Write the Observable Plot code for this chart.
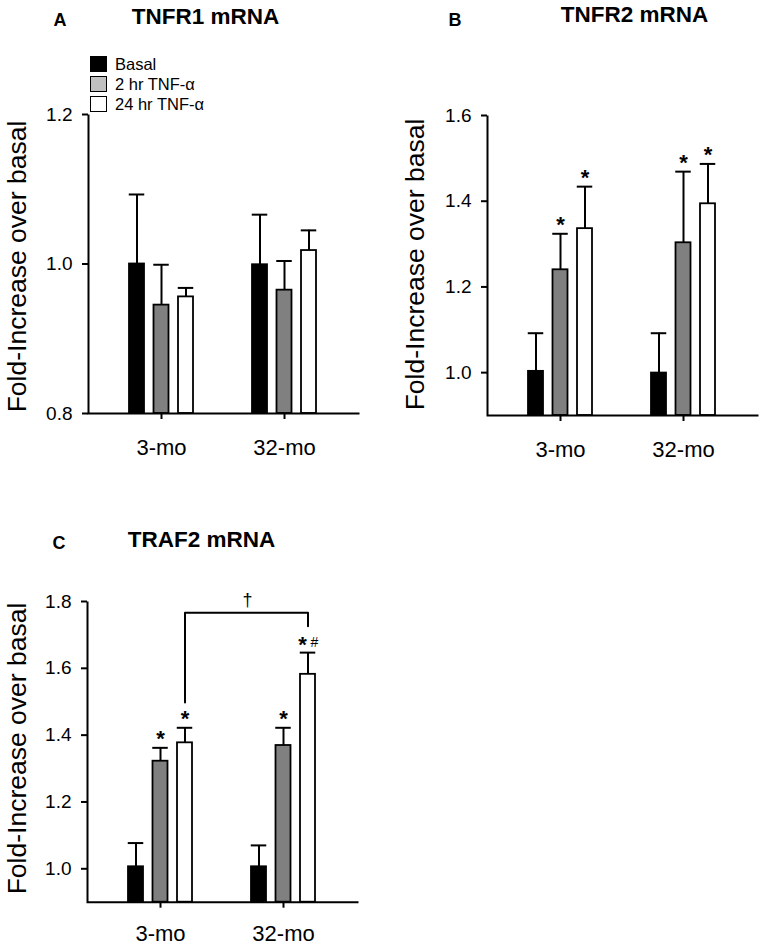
<!DOCTYPE html>
<html>
<head>
<meta charset="utf-8">
<script src="https://cdn.jsdelivr.net/npm/d3@7"></script>
<script src="https://cdn.jsdelivr.net/npm/@observablehq/plot@0.6"></script>
<style>
  body { margin: 0; background: #fff; }
  #wrap { position: relative; width: 761px; height: 946px; background: #fff; font-family: "Liberation Sans", Arial, sans-serif; overflow: hidden; }
  .panel { position: absolute; }
  .legend { position: absolute; left: 90px; top: 53.5px; font-size: 16.5px; color: #000; }
  .legend .row { display: flex; align-items: center; height: 20px; line-height: 20px; white-space: nowrap; }
  .legend .sw { box-sizing: border-box; width: 17px; height: 16px; border: 1.5px solid #000; margin-right: 8px; }
</style>
</head>
<body>
<div id="wrap"></div>
<script>
// ---------------- data ----------------
const ages = ["3-mo", "32-mo"];
const treatments = ["Basal", "2 hr TNF-α", "24 hr TNF-α"];
const yLabel = "Fold-Increase over basal";

// order: 3-mo (Basal, 2 hr, 24 hr), 32-mo (Basal, 2 hr, 24 hr)
const tnfr1Mean = [1.000, 0.945, 0.956, 0.999, 0.965, 1.018];
const tnfr1Sem  = [0.093, 0.054, 0.012, 0.067, 0.039, 0.027];
const tnfr1Sig  = ["", "", "", "", "", ""];
const tnfr1Ticks = [0.8, 1.0, 1.2];

const tnfr2Mean = [1.003, 1.240, 1.336, 0.999, 1.303, 1.394];
const tnfr2Sem  = [0.089, 0.084, 0.098, 0.093, 0.166, 0.093];
const tnfr2Sig  = ["", "*", "*", "", "*", "*"];
const tnfr2Ticks = [1.0, 1.2, 1.4, 1.6];

const traf2Mean = [1.006, 1.322, 1.377, 1.006, 1.369, 1.582];
const traf2Sem  = [0.071, 0.040, 0.045, 0.064, 0.053, 0.065];
const traf2Sig  = ["", "*", "*", "", "*", "*"];
const traf2Hash = ["", "", "", "", "", "#"];
const traf2Ticks = [1.0, 1.2, 1.4, 1.6, 1.8];

// 3-mo vs 32-mo (24 hr TNF-α) comparison bracket
const bracketAges = ["3-mo", "3-mo", "32-mo", "32-mo"];
const bracketY    = [1.498, 1.766, 1.766, 1.726];
const bracketLabel = "†";

// ---------------- styling / layout constants ----------------
const barFills = ["#000000", "#808080", "#ffffff"];
const legendFills = ["#000000", "#c0c0c0", "#ffffff"];
const barOffsets = [-24.5, 0, 24.5];   // px offset of each treatment within an age group
const FONT = "'Liberation Sans', Arial, Helvetica, sans-serif";

function rowsOf(mean, sem, sig, hash) {
  return ages.flatMap((age, i) => treatments.map((t, j) => {
    const k = i * 3 + j;
    return {age, treatment: t, ti: j, mean: mean[k], sem: sem[k], top: mean[k] + sem[k],
            sig: sig ? sig[k] : "", hash: hash ? hash[k] : ""};
  }));
}

function panel(o) {
  const {rows, domain, ticks, w, h, ml, mr, mt, mb} = o;
  const W = w - ml - mr, H = h - mt - mb;
  const place = (str, x, baseline, fontSize, anchor, weight) =>
    Plot.text([str], {
      text: d => d, frameAnchor: "top-left", lineAnchor: "top",
      dx: x - ml, dy: baseline - mt - 0.71 * fontSize,
      textAnchor: anchor, fontSize, fontWeight: weight, fill: "#000"
    });
  const marks = [];
  treatments.forEach((t, j) => {
    const sub = rows.filter(d => d.ti === j);
    marks.push(
      Plot.ruleX(sub, {x: "age", y1: "mean", y2: "top", dx: barOffsets[j], stroke: "#000", strokeWidth: 2}),
      Plot.tickY(sub, {x: "age", y: "top", dx: barOffsets[j], insetLeft: 23.25, insetRight: 23.25, stroke: "#000", strokeWidth: 2}),
      Plot.barY(sub, {x: "age", y1: domain[0], y2: "mean", dx: barOffsets[j], insetLeft: 23.5, insetRight: 23.5,
                      fill: barFills[j], stroke: "#000", strokeWidth: 1.8}),
      Plot.text(sub.filter(d => d.sig && !d.hash), {x: "age", y: "top", text: "sig", dx: barOffsets[j], dy: -8.5,
                      lineAnchor: "middle", fontSize: 22, fontWeight: "bold", fill: "#000"}),
      Plot.text(sub.filter(d => d.sig && d.hash), {x: "age", y: "top", text: "sig", dx: barOffsets[j] - 5.5, dy: -7.5,
                      lineAnchor: "middle", fontSize: 22, fontWeight: "bold", fill: "#000"}),
      Plot.text(sub.filter(d => d.hash), {x: "age", y: "top", text: "hash", dx: barOffsets[j] + 6.5, dy: -10,
                      lineAnchor: "middle", fontSize: 14, fill: "#000"})
    );
  });
  marks.push(
    Plot.frame({stroke: "#000", strokeWidth: 2, strokeDasharray: `0,${W + H},${W + H}`}),
    Plot.axisY({ticks, tickFormat: ".1f", tickSize: 6, tickPadding: 10, fontSize: 19, strokeWidth: 2, label: null}),
    Plot.axisX({tickSize: 6, tickPadding: o.xpad, fontSize: 22, strokeWidth: 2, label: null}),
    Plot.text([yLabel], {text: d => d, frameAnchor: "left", rotate: -90, lineAnchor: "middle", textAnchor: "middle",
                         dx: o.ylab[0] - 0.32 * 26.5 - ml, dy: o.ylab[1] - (mt + H / 2), fontSize: 26.5, fill: "#000"}),
    place(o.letter, o.letterPos[0], o.letterPos[1], 18, "start", "bold"),
    place(o.title, o.titlePos[0], o.titlePos[1], 22.5, "middle", "bold")
  );
  if (o.extra) marks.push(...o.extra);
  return Plot.plot({
    width: w, height: h, marginLeft: ml, marginRight: mr, marginTop: mt, marginBottom: mb,
    style: {fontFamily: FONT, background: "transparent", overflow: "visible", color: "#000"},
    x: {type: "band", domain: ages, paddingInner: 0.5, paddingOuter: 0.3516, align: 0.488},
    y: {domain},
    marks
  });
}

const wrap = document.getElementById("wrap");
function put(node, left, top) {
  node.classList.add("panel");
  node.style.left = left + "px";
  node.style.top = top + "px";
  wrap.appendChild(node);
}

// Panel A
put(panel({
  rows: rowsOf(tnfr1Mean, tnfr1Sem, tnfr1Sig), domain: [0.8, 1.2], ticks: tnfr1Ticks,
  w: 380, h: 480, ml: 88, mr: 21, mt: 114, mb: 67, xpad: 19.4,
  letter: "A", letterPos: [53, 25], title: "TNFR1 mRNA", titlePos: [205, 23], ylab: [25, 266]
}), 0, 0);

// Panel B
put(panel({
  rows: rowsOf(tnfr2Mean, tnfr2Sem, tnfr2Sig), domain: [0.9, 1.6], ticks: tnfr2Ticks,
  w: 380, h: 480, ml: 106, mr: 3, mt: 115, mb: 65, xpad: 19.4,
  letter: "B", letterPos: [67, 25.7], title: "TNFR2 mRNA", titlePos: [253, 21.7], ylab: [42, 264]
}), 381, 0);

// Panel C
const bracketData = bracketAges.map((age, i) => ({age, y: bracketY[i]}));
put(panel({
  rows: rowsOf(traf2Mean, traf2Sem, traf2Sig, traf2Hash), domain: [0.9, 1.8], ticks: traf2Ticks,
  w: 380, h: 466, ml: 87, mr: 22, mt: 121, mb: 44.3, xpad: 16.7,
  letter: "C", letterPos: [52, 68], title: "TRAF2 mRNA", titlePos: [201, 66.7], ylab: [25, 268],
  extra: [
    Plot.line(bracketData, {x: "age", y: "y", dx: barOffsets[2], stroke: "#000", strokeWidth: 2, curve: "linear"}),
    Plot.text([{age: ages[0], y: bracketY[1], label: bracketLabel}], {x: "age", y: "y", text: "label",
      dx: barOffsets[2] + 62.5, dy: -13, lineAnchor: "middle", fontSize: 18, fill: "#000"})
  ]
}), 0, 480);

// Legend (panel A)
const legend = document.createElement("div");
legend.className = "legend";
treatments.forEach((t, j) => {
  const row = document.createElement("div");
  row.className = "row";
  const sw = document.createElement("span");
  sw.className = "sw";
  sw.style.background = legendFills[j];
  const lab = document.createElement("span");
  lab.textContent = t;
  row.appendChild(sw);
  row.appendChild(lab);
  legend.appendChild(row);
});
wrap.appendChild(legend);
</script>
</body>
</html>
